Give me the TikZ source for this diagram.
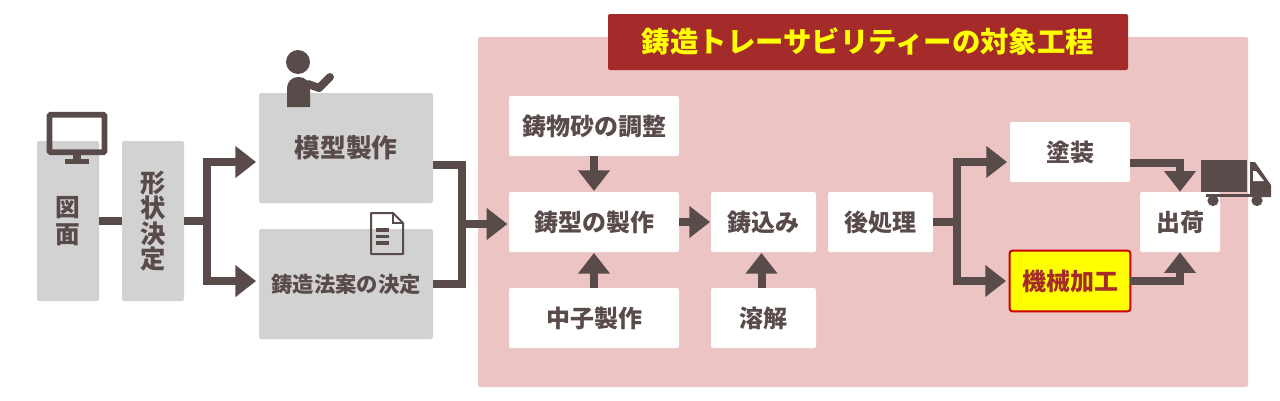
\documentclass[tikz,border=0pt]{standalone}
\usepackage{fontspec}
\setmainfont{Noto Sans CJK JP}
\usetikzlibrary{arrows.meta}
\definecolor{darkbrown}{HTML}{5A4B4B}
\definecolor{boxgray}{HTML}{D2D2D2}
\definecolor{areapink}{HTML}{ECC4C4}
\definecolor{titlered}{HTML}{A52A2A}
\definecolor{markred}{HTML}{CC0000}
\definecolor{markyellow}{RGB}{255,255,0}
\tikzset{
    basebox/.style={rectangle, rounded corners=1.5pt, inner sep=0pt, text=darkbrown, font=\fontsize{18}{22}\selectfont\bfseries},
    graybox/.style={basebox, fill=boxgray},
    whitebox/.style={basebox, fill=white, minimum height=45pt},
    flow/.style={draw=darkbrown, line width=6pt, -{Triangle[width=23pt,length=15.5pt]}},
    flowplain/.style={draw=darkbrown, line width=6pt},
}
\begin{document}
\begin{tikzpicture}[x=0.75pt, y=-0.75pt]
    \useasboundingbox (0,0) rectangle (1280,400);

    % area and title
    \node[rectangle, rounded corners=1.5pt, fill=areapink, minimum width=577.5pt, minimum height=262.5pt] (area) at (863,212) {};
    \node[rectangle, rounded corners=1.5pt, fill=titlered, text=markyellow, minimum width=390pt, minimum height=42pt, inner sep=0pt, font=\fontsize{21.3}{24}\selectfont\bfseries] (title) at (868,42) {鋳造トレーサビリティーの対象工程};

    % left part
    \node[graybox, minimum width=46.5pt, minimum height=120pt, align=center, font=\fontsize{18.5}{20}\selectfont\bfseries] (zumen) at (68,221) {図\\面};
    \node[graybox, minimum width=46.5pt, minimum height=120pt, align=center, font=\fontsize{19}{19}\selectfont\bfseries] (keijou) at (153,221) {形\\状\\決\\定};
    \node[graybox, minimum width=130.5pt, minimum height=82.5pt, font=\fontsize{19.3}{22}\selectfont\bfseries] (mokei) at (346,148) {模型製作};
    \node[graybox, minimum width=130.5pt, minimum height=82.5pt, font=\fontsize{16}{20}\selectfont\bfseries] (houan) at (346,284) {鋳造法案の決定};

    % inside the area
    \node[whitebox, minimum width=127.5pt] (suna) at (594,126) {鋳物砂の調整};
    \node[whitebox, minimum width=127.5pt] (igata) at (594,222) {鋳型の製作};
    \node[whitebox, minimum width=127.5pt] (nakago) at (594,318) {中子製作};
    \node[whitebox, minimum width=78.75pt] (ikomi) at (763.5,222) {鋳込み};
    \node[whitebox, minimum width=78.75pt] (youkai) at (763.5,318) {溶解};
    \node[whitebox, minimum width=78.75pt] (kouri) at (880.5,222) {後処理};
    \node[whitebox, minimum width=90pt] (tosou) at (1070,152) {塗装};
    \node[rectangle, rounded corners=2pt, fill=markyellow, draw=markred, line width=1.5pt, text=titlered, inner sep=0pt, minimum width=90.5pt, minimum height=45.5pt, font=\fontsize{18}{22}\selectfont\bfseries] (kikai) at (1070,281) {機械加工};
    \node[whitebox, minimum width=60pt] (shukka) at (1180,222) {出荷};

    % branch points
    \coordinate (leftfork) at (207,221);
    \coordinate (midjoin) at (462,224);
    \coordinate (midtop) at (433,165);
    \coordinate (midbot) at (433,284);
    \coordinate (rightfork) at (957,222);
    \coordinate (tosouout) at (1130,163);
    \coordinate (kikaiout) at (1130,281);

    % connectors
    \draw[flowplain] (zumen) -- (keijou);
    \draw[flowplain] (keijou) -- (leftfork);
    \draw[flow, shorten >=2pt] (leftfork) |- ([yshift=-10.5pt]mokei.west);
    \draw[flow, shorten >=2pt] (leftfork) |- ([yshift=2.2pt]houan.west);
    \draw[flowplain, line join=miter] (midtop) -| (midjoin) |- (midbot);
    \draw[flow, shorten >=1pt] (midjoin) -- (midjoin -| igata.west);
    \draw[flow, shorten >=0.5pt] (suna) -- (igata);
    \draw[flow, shorten >=0.5pt] (nakago.north) -- (igata.south);
    \draw[flow, shorten >=0.5pt] (igata) -- (ikomi);
    \draw[flow, shorten >=0.5pt] ([xshift=-1.5pt]youkai.north) -- ([xshift=-1.5pt]ikomi.south);
    \draw[flowplain] (kouri) -- (rightfork);
    \draw[flow, shorten >=2pt] (rightfork) |- ([yshift=-7.5pt]tosou.west);
    \draw[flow, shorten >=2pt] (rightfork) |- (kikai.west);
    \draw[flow] (tosouout) -| (shukka.north);
    \draw[flow] (kikaiout) -| (shukka.south);

    % monitor
    \draw[darkbrown, line width=4.3pt, rounded corners=1pt] (49.5,114.7) rectangle (104.5,152.3);
    \fill[darkbrown] (73,154) rectangle (81,160);
    \fill[darkbrown] (65,159) rectangle (89,164);

    % person
    \fill[darkbrown] (298,62) circle (9pt);
    \fill[darkbrown] (287,107) -- (287,88) arc[start angle=180, end angle=90, radius=8.25pt] -- (299,77) arc[start angle=90, end angle=0, radius=8.25pt] -- (310,107) -- cycle;
    \draw[darkbrown, line width=6pt, line cap=round, line join=round] (308,84) -- (319,88) -- (330,77);

    % document
    \draw[darkbrown, line width=1.5pt, line join=round] (371,213) -- (393,213) -- (403,223) -- (403,254) -- (371,254) -- cycle;
    \draw[darkbrown, line width=1pt] (393,213) -- (393,223) -- (403,223);
    \draw[darkbrown, line width=2.5pt] (376,230) -- (389,230) (376,236.5) -- (389,236.5) (376,243) -- (389,243);

    % truck
    \fill[darkbrown] (1201,160) rectangle (1247,192);
    \fill[darkbrown] (1206,194) rectangle (1271,197);
    \fill[darkbrown] (1250,162) -- (1255,162) -- (1271,185) -- (1271,197) -- (1250,197) -- cycle;
    \fill[white] (1253,171) -- (1256,171) -- (1264,181) -- (1253,181) -- cycle;
    \fill[darkbrown] (1213,200.5) circle (4.2pt);
    \fill[darkbrown] (1257,200.5) circle (4.2pt);
\end{tikzpicture}
\end{document}
